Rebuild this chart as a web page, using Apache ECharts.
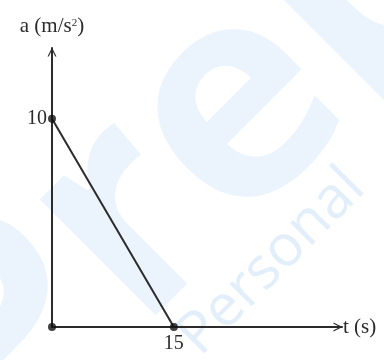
<!DOCTYPE html>
<html>
<head>
<meta charset="utf-8">
<script src="https://cdn.jsdelivr.net/npm/echarts@6/dist/echarts.min.js"></script>
<style>
  html, body { margin: 0; padding: 0; background: #fff; }
  #main { width: 384px; height: 360px; }
</style>
</head>
<body>
<div id="main"></div>
<script>
// a-t graph: acceleration falls linearly from 10 to 0 over 15 s
var linePoints = [[0, 10], [15, 0]];
var dotPoints = [[0, 0], [0, 10], [15, 0]];
var xTicks = [15];
var yTicks = [10];

var dom = document.getElementById("main");
var myChart = echarts.init(dom);
var serif = '"Liberation Serif", "DejaVu Serif", serif';
var ink = '#2b2b2b';
// open chevron arrow head, pointing up
var chevron = 'path://M0,10 L5,0 L10,10 L8.6,10 L5,2.8 L1.4,10 Z';

var option = {
    backgroundColor: '#fff',
    animation: false,
    graphic: [
        {
            type: 'text', z: -10, silent: true,
            x: 190, y: 160, rotation: Math.PI / 4,
            style: {
                text: 'Prep', fill: '#ebf3fc',
                font: 'bold 300px "Open Sans", sans-serif',
                align: 'center', verticalAlign: 'middle'
            }
        },
        {
            type: 'text', z: -10, silent: true,
            x: 272, y: 262, rotation: Math.PI / 4,
            style: {
                text: 'Personal', fill: '#e3eefb',
                font: '58px "Open Sans", sans-serif',
                align: 'center', verticalAlign: 'middle'
            }
        }
    ],
    grid: { left: 52, right: 42, top: 48, bottom: 33 },
    xAxis: {
        type: 'value',
        min: 0,
        max: 35.7,
        interval: 5,
        name: 't (s)',
        nameLocation: 'end',
        nameGap: 1,
        nameTextStyle: {
            color: ink, fontFamily: serif, fontSize: 21,
            verticalAlign: 'middle', padding: [0, 0, 8, 0]
        },
        axisLine: {
            lineStyle: { color: ink, width: 2 },
            symbol: ['none', chevron],
            symbolSize: [11, 9],
            symbolOffset: [0, -4]
        },
        axisTick: { show: false },
        splitLine: { show: false },
        axisLabel: {
            color: ink, fontFamily: serif, fontSize: 20, margin: 7,
            showMaxLabel: false,
            formatter: function (v) { return xTicks.indexOf(v) >= 0 ? String(v) : ''; }
        }
    },
    yAxis: {
        type: 'value',
        min: 0,
        max: 13.4,
        interval: 5,
        name: 'a (m/s{sup|2})',
        nameLocation: 'end',
        nameGap: 11,
        nameTextStyle: {
            color: ink, fontFamily: serif, fontSize: 21, align: 'center',
            rich: {
                sup: { fontFamily: serif, fontSize: 11, color: ink, verticalAlign: 'top', padding: [2, 0, 0, 0] }
            }
        },
        axisLine: {
            lineStyle: { color: ink, width: 2 },
            symbol: ['none', chevron],
            symbolSize: [11, 9],
            symbolOffset: [0, -4]
        },
        axisTick: { show: false },
        splitLine: { show: false },
        axisLabel: {
            color: ink, fontFamily: serif, fontSize: 20, margin: 5,
            showMaxLabel: false,
            padding: [0, 0, 8, 0],
            formatter: function (v) { return yTicks.indexOf(v) >= 0 ? String(v) : ''; }
        }
    },
    series: [
        {
            type: 'line',
            data: linePoints,
            symbol: 'none',
            lineStyle: { color: ink, width: 2 },
            z: 3
        },
        {
            type: 'scatter',
            data: dotPoints,
            symbol: 'circle',
            symbolSize: 8,
            itemStyle: { color: '#111' },
            z: 4
        }
    ]
};
myChart.setOption(option, true);
</script>
</body>
</html>
